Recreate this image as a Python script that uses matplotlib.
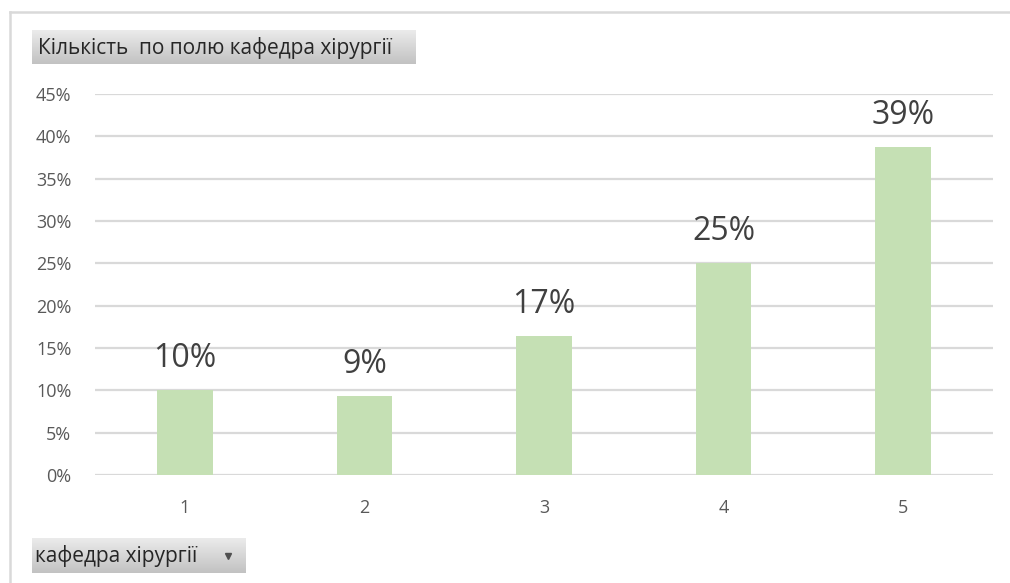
import numpy as np
import matplotlib
matplotlib.use("Agg")
import matplotlib.pyplot as plt
from matplotlib.lines import Line2D

plt.rcParams['font.family'] = ['Open Sans', 'DejaVu Sans']

# data
categories = ['1', '2', '3', '4', '5']
shares = [10.0, 9.3, 16.4, 25.0, 38.7]
labels = ['10%', '9%', '17%', '25%', '39%']
yticks = [0, 5, 10, 15, 20, 25, 30, 35, 40, 45]

W, H = 1010, 583
BAR_COLOR = '#c5e0b4'
GRID_COLOR = '#d9d9d9'


def px_rect(x0, y0, x1, y1):
    # pixel box (top-left origin) -> figure fraction
    return [x0 / W, 1 - y1 / H, (x1 - x0) / W, (y1 - y0) / H]


def add_button(fig, box, text, size, arrow=False):
    bax = fig.add_axes(px_rect(*box))
    grad = np.linspace(0, 1, 64).reshape(-1, 1)
    bax.imshow(grad, aspect='auto', cmap=matplotlib.colors.LinearSegmentedColormap.from_list(
        'btn', ['#ebebeb', '#c2c2c2']), extent=[0, 1, 0, 1], origin='upper')
    bax.set_xlim(0, 1)
    bax.set_ylim(0, 1)
    bax.axis('off')
    bax.text(0.015, 0.48, text, fontsize=size, color='#262626', va='center', ha='left')
    if arrow:
        bax.plot([0.915], [0.5], marker='v', markersize=5, color='#505050')


fig = plt.figure(figsize=(W / 100, H / 100), dpi=100)

# outer frame (top and left only visible)
fig.add_artist(Line2D([10 / W, 1], [1 - 12 / H, 1 - 12 / H], color=GRID_COLOR, lw=1.8))
fig.add_artist(Line2D([10 / W, 10 / W], [0, 1 - 12 / H], color=GRID_COLOR, lw=1.8))

ax = fig.add_axes(px_rect(95, 94, 993, 475))
x = np.arange(1, len(categories) + 1)
ax.bar(x, shares, width=0.31, color=BAR_COLOR, zorder=3)
for xi, v, lab in zip(x, shares, labels):
    ax.annotate(lab, (xi, v), xytext=(0, 11), textcoords='offset points',
                ha='center', va='bottom', fontsize=23, color='#404040')

ax.set_xlim(0.5, 5.5)
ax.set_ylim(0, 45)
ax.set_xticks(x)
ax.set_xticklabels(categories)
ax.set_yticks(yticks)
ax.set_yticklabels([f'{t}%' for t in yticks])
ax.tick_params(axis='both', length=0, labelsize=13, labelcolor='#595959')
ax.tick_params(axis='x', pad=17)
ax.tick_params(axis='y', pad=17)
ax.yaxis.grid(True, color=GRID_COLOR, lw=1.6, zorder=0)
for s in ax.spines.values():
    s.set_visible(False)

add_button(fig, (32, 30, 415, 64), 'Кількість  по полю кафедра хірургії', 15)
add_button(fig, (32, 538, 246, 573), 'кафедра хірургії', 15, arrow=True)

fig.savefig('out.png', dpi=100)
